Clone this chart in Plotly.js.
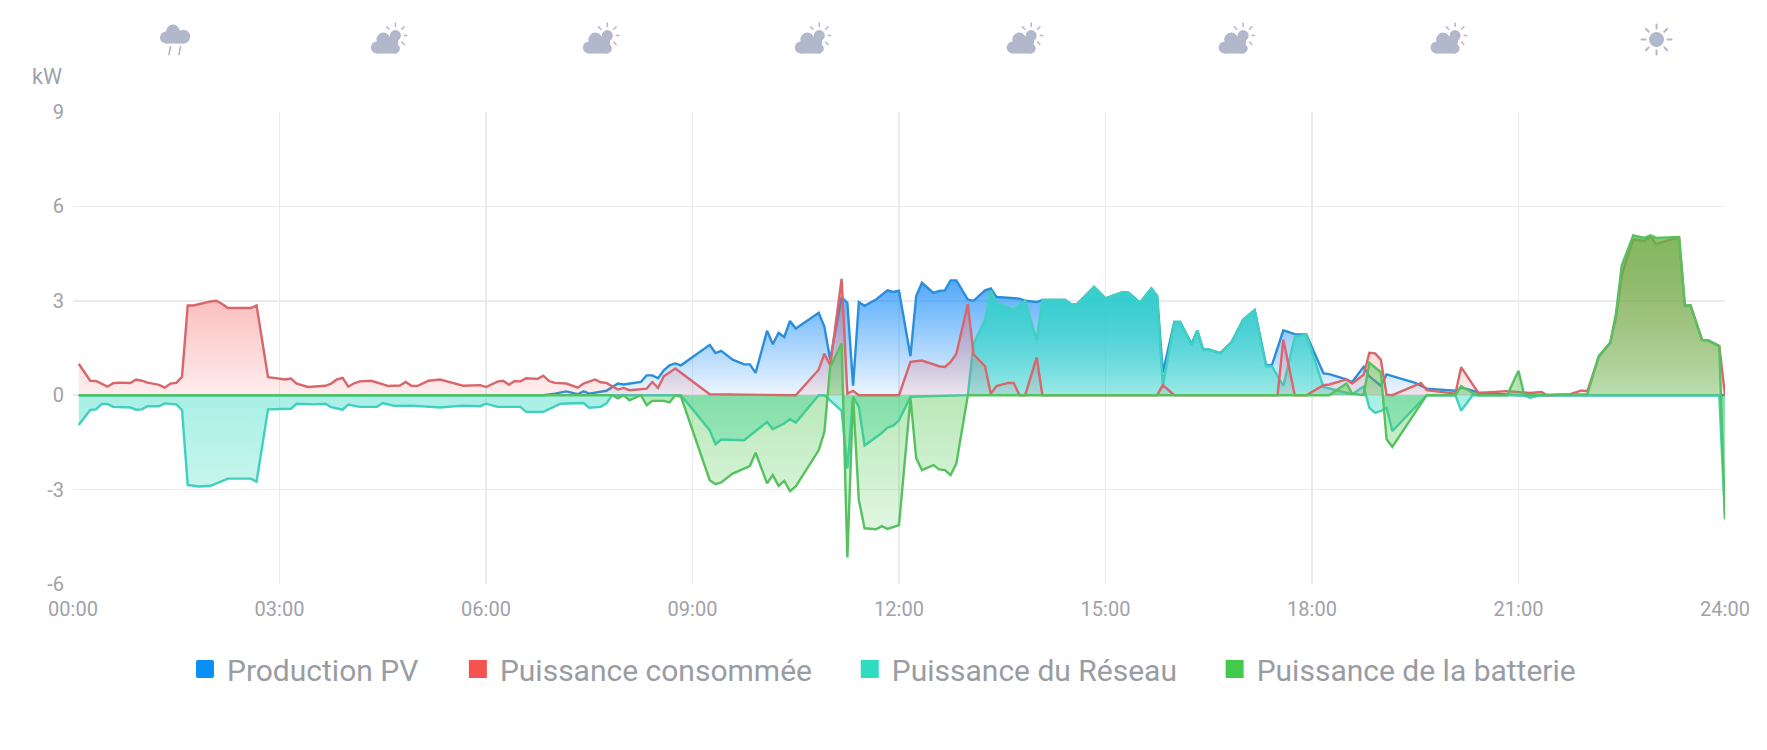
<!DOCTYPE html>
<html><head><meta charset="utf-8">
<script src="https://cdn.plot.ly/plotly-3.0.1.min.js"></script>
<style>html,body{margin:0;padding:0;background:#fff}#c{width:1767px;height:750px}.legend path{stroke-linejoin:round}</style>
</head><body><div id="c"></div>
<script>
const seriesNames=['Production PV','Puissance consommée','Puissance du Réseau','Puissance de la batterie'];
const tickMinutes=[0,180,360,540,720,900,1080,1260,1440];
const tickLabels=['00:00','03:00','06:00','09:00','12:00','15:00','18:00','21:00','24:00'];
const yTicks=[-6,-3,0,3,6,9];
const yLabels=['-6','-3','0','3','6','9'];

const pvT=[5,410,420,430,440,445,450,455,465,475,480,495,500,505,510,515,520,525,530,555,560,565,575,585,590,595,605,610,615,620,625,630,650,655,660,670,675,680,685,690,700,710,715,720,730,735,740,750,755,760,765,770,780,785,795,800,805,825,830,840,845,865,870,875,890,900,915,920,930,940,945,950,960,965,975,980,985,990,1000,1010,1020,1030,1040,1045,1055,1065,1075,1090,1095,1110,1115,1125,1130,1140,1145,1170,1180,1205,1210,1215,1225,1260,1440];
const pvV=[0,0,.05,.12,.03,.12,.05,.08,.14,.37,.34,.42,.63,.63,.54,.79,.95,1.01,.95,1.6,1.34,1.41,1.13,.98,.98,.71,2.05,1.62,1.98,1.85,2.36,2.12,2.62,2.17,1.13,3.12,2.93,.3,2.96,2.84,3.04,3.33,3.28,3.32,1.24,3.15,3.57,3.25,3.31,3.33,3.65,3.65,3.04,3,3.33,3.39,3.12,3.07,3,2.96,3.03,3.03,2.89,2.89,3.44,3.08,3.27,3.26,2.94,3.39,3.15,.72,2.33,2.33,1.63,2.06,1.45,1.45,1.34,1.69,2.4,2.7,.95,.95,2.06,1.94,1.93,.69,.67,.5,.42,.9,.6,.3,.66,.39,.21,.14,.24,.2,.08,0,0];

const loadT=[5,15,20,25,30,35,40,50,55,60,65,75,80,85,90,95,100,105,110,120,125,130,135,155,160,170,175,185,190,195,205,220,225,230,235,240,245,250,260,265,270,275,285,290,295,300,310,320,330,340,355,360,370,375,380,385,390,395,405,410,415,420,430,440,445,455,460,465,475,480,485,500,505,510,515,525,555,630,650,655,660,670,675,680,685,720,730,740,755,760,765,770,780,785,795,800,805,815,820,825,830,840,845,945,950,960,1050,1055,1065,1075,1090,1095,1110,1115,1125,1130,1135,1140,1145,1150,1175,1180,1205,1210,1225,1250,1270,1280,1285,1305,1315,1320,1330,1340,1345,1350,1355,1360,1370,1375,1380,1395,1400,1405,1410,1420,1425,1435,1440];
const loadV=[1,.46,.45,.36,.27,.38,.4,.39,.5,.46,.4,.33,.24,.37,.39,.58,2.85,2.85,2.9,2.98,3,2.9,2.77,2.77,2.85,.57,.55,.5,.53,.37,.26,.3,.37,.5,.55,.27,.38,.44,.46,.4,.35,.29,.31,.42,.3,.29,.46,.5,.4,.3,.32,.26,.43,.46,.33,.45,.44,.54,.52,.62,.45,.39,.37,.24,.37,.5,.41,.39,.18,.23,.16,.21,.42,.23,.6,.85,.03,0,.81,1.32,.95,3.7,.05,.14,0,0,1.06,1.1,.92,.9,1.06,1.32,2.89,1.3,.92,.05,.29,.39,.39,0,0,1.2,0,0,.32,0,0,1.77,0,0,.32,.34,.5,.37,.65,1.35,1.33,1.13,.02,0,.39,.16,.05,.89,.07,.13,.07,.1,0,.03,.15,.13,1.22,1.67,2.5,3.8,4.4,4.95,4.9,5.05,4.8,4.98,5,2.85,2.85,1.75,1.75,1.56,0];

const gridT=[5,15,20,25,30,35,50,55,60,65,75,80,90,95,100,110,120,125,135,155,160,170,190,195,210,220,225,235,240,250,265,270,280,295,320,340,355,360,370,390,395,410,425,445,450,460,465,470,530,555,560,565,585,605,610,620,625,630,650,655,670,675,680,685,690,705,710,715,720,730,780,785,795,800,805,820,830,840,845,865,870,875,890,900,915,920,930,940,945,950,960,965,975,980,985,990,1000,1010,1020,1030,1040,1045,1055,1065,1075,1090,1110,1115,1125,1130,1135,1140,1145,1150,1180,1205,1210,1220,1265,1270,1280,1435,1440];
const gridV=[-.95,-.47,-.45,-.28,-.28,-.37,-.39,-.46,-.45,-.35,-.35,-.26,-.29,-.47,-2.85,-2.9,-2.88,-2.8,-2.65,-2.65,-2.75,-.45,-.43,-.27,-.29,-.27,-.38,-.46,-.3,-.37,-.37,-.25,-.34,-.33,-.39,-.33,-.35,-.27,-.37,-.37,-.53,-.53,-.27,-.25,-.4,-.37,-.26,0,0,-1.11,-1.56,-1.41,-1.43,-.85,-1.08,-.9,-.76,-.87,0,0,-.5,-2.33,-.05,-.37,-1.6,-1.2,-1.03,-.97,-.8,-.05,0,1.64,2.38,3.33,2.93,2.72,3,1.75,3.03,3.03,2.89,2.89,3.44,3.08,3.27,3.26,2.94,3.39,3.15,.3,2.33,2.33,1.6,2.06,1.45,1.45,1.34,1.69,2.4,2.7,.92,.92,.3,1.85,1.93,.26,.07,.03,.28,-.4,-.56,-.5,-.4,-1.14,0,0,-.49,0,0,-.08,0,0,-3.9];

const battT=[5,470,475,480,485,495,500,505,515,520,525,530,555,560,565,575,590,595,605,610,615,620,625,630,650,655,660,670,675,680,685,690,700,705,710,720,730,735,740,750,755,760,765,770,780,1095,1110,1115,1125,1130,1140,1145,1150,1180,1205,1210,1220,1225,1250,1260,1265,1320,1330,1340,1345,1350,1360,1370,1375,1380,1400,1405,1410,1420,1425,1435,1440];
const battV=[0,0,-.1,0,-.16,0,-.32,-.18,-.18,-.23,0,-.05,-2.7,-2.83,-2.77,-2.49,-2.25,-1.83,-2.8,-2.54,-2.88,-2.72,-3.05,-2.9,-1.75,-1.16,.9,1.64,-5.16,-.05,-3.33,-4.23,-4.26,-4.16,-4.25,-4.13,-.1,-2,-2.38,-2.22,-2.36,-2.38,-2.54,-2.17,0,0,.37,.05,0,1.03,.73,-1.4,-1.64,0,0,.29,.07,0,0,.78,0,.03,1.25,1.67,2.6,4.12,5.08,5,5.08,5,5.03,2.85,2.85,1.75,1.75,1.56,-3.95];

const iconKinds=['rain','cloudsun','cloudsun','cloudsun','cloudsun','cloudsun','cloudsun','sun'];

const W=1767,H=750,L=73,R=1725.5,T=111.5,B=584;
const lineCols=['#2b8edb','#d9666b','#3fd0c0','#55c25f'];
const swatchCols=['#0a8ff5','#f5534f','#2fdcc0','#45c94d'];
const grads=[
 {s:3.65,e:0,c:[[0,'rgba(24,140,250,.75)'],[1,'rgba(24,140,250,.08)']]},
 {s:3.7,e:0,c:[[0,'rgba(245,80,80,.42)'],[1,'rgba(245,80,80,.1)']]},
 {s:3.44,e:-2.9,c:[[0,'rgba(47,210,200,.9)'],[.54,'rgba(47,218,195,.42)'],[1,'rgba(47,220,190,.27)']]},
 {s:5.08,e:-5.16,c:[[0,'rgba(90,185,65,.75)'],[.5,'rgba(75,195,70,.38)'],[1,'rgba(70,205,80,.12)']]}
];
const xs=[pvT,loadT,gridT,battT],ys=[pvV,loadV,gridV,battV];
const drawOrder=[0,2,1,3];
const traces=[];
drawOrder.forEach(i=>{traces.push({type:'scatter',mode:'lines',name:seriesNames[i],x:xs[i],y:ys[i],showlegend:false,hoverinfo:'skip',
 line:{color:lineCols[i],width:2.4,shape:'linear'},fill:'tozeroy',
 fillgradient:{type:'vertical',start:grads[i].s,stop:grads[i].e,colorscale:grads[i].c}});});
const legendIds=['legend','legend2','legend3','legend4'];
const legendLeft=[183,456,848,1213];
seriesNames.forEach((n,i)=>{traces.push({type:'scatter',mode:'markers',name:n,x:[null],y:[null],showlegend:true,legend:legendIds[i],
 marker:{symbol:'square',size:14,color:swatchCols[i],line:{color:swatchCols[i],width:4}}});});

const pw=R-L,ph=B-T;
const px=v=>(v-L)/pw, py=v=>(B-v)/ph;
const legendCfg={};
legendIds.forEach((id,i)=>{legendCfg[id]={orientation:'h',x:px(legendLeft[i]),y:py(669),xanchor:'left',yanchor:'middle',bgcolor:'rgba(0,0,0,0)',borderwidth:0,itemsizing:'trace',itemwidth:34,font:{family:'Roboto',size:30,color:'#9a9ca3'}};});

const c='#b2b8cb';
function rays(cx,cy,r1,r2,angs,w){return angs.map(a=>{const t=a*Math.PI/180;return `<line x1="${cx+r1*Math.cos(t)}" y1="${cy+r1*Math.sin(t)}" x2="${cx+r2*Math.cos(t)}" y2="${cy+r2*Math.sin(t)}" stroke="${c}" stroke-width="${w}" stroke-linecap="round"/>`}).join('');}
const icons={
 rain:`<g fill="${c}"><circle cx="18" cy="12" r="7"/><circle cx="28.5" cy="17" r="6.8"/><circle cx="11" cy="18" r="6"/><rect x="10" y="14" width="20" height="10"/></g><line x1="15.5" y1="27" x2="14" y2="35" stroke="${c}" stroke-width="1.6" stroke-linecap="round"/><line x1="25.5" y1="27" x2="24" y2="35" stroke="${c}" stroke-width="1.6" stroke-linecap="round"/>`,
 cloudsun:`<g fill="${c}"><circle cx="28" cy="16" r="5.5"/><circle cx="16" cy="20" r="7"/><circle cx="25" cy="22" r="6"/><circle cx="9.5" cy="28" r="6"/><rect x="9" y="24" width="20" height="10"/><circle cx="27.5" cy="29" r="5"/></g>`+rays(28,16,9,12.5,[-135,-90,-45,0,45],1.5),
 sun:`<circle cx="20" cy="20" r="7.5" fill="${c}"/>`+rays(20,20,11,15,[0,45,90,135,180,225,270,315],2)
};
const icoSize=40,icoY=39;
const centers=[175,387.5,599.5,811.5,1023.5,1235.5,1447.5,1656];
const images=iconKinds.map((k,i)=>({source:'data:image/svg+xml;utf8,'+encodeURIComponent(`<svg xmlns="http://www.w3.org/2000/svg" width="80" height="80" viewBox="0 0 40 40">${icons[k]}</svg>`),
 xref:'paper',yref:'paper',x:px(k==='sun'?1657:centers[i]),y:py(icoY),sizex:icoSize/pw,sizey:icoSize/ph,xanchor:'center',yanchor:'middle',sizing:'stretch',layer:'above'}));

const tickFont={family:'Roboto',size:20,color:'#a0a2a8'};
const layout=Object.assign({
 width:W,height:H,autosize:false,margin:{l:L,r:W-R,t:T,b:H-B,pad:0},
 paper_bgcolor:'#fff',plot_bgcolor:'#fff',showlegend:true,
 xaxis:{type:'linear',range:[0,1440],tickmode:'array',tickvals:tickMinutes,ticktext:tickLabels,tickfont:tickFont,showgrid:true,gridcolor:'#ebebee',gridwidth:1.5,zeroline:false,showline:false,ticks:'',ticklabelstandoff:11,fixedrange:true},
 yaxis:{range:[-6,9],tickmode:'array',tickvals:yTicks,ticktext:yLabels,tickfont:tickFont,showgrid:true,gridcolor:'#ebebee',gridwidth:1.5,zeroline:false,showline:false,ticks:'',ticklabelstandoff:8,fixedrange:true},
 annotations:[{text:'kW',xref:'paper',yref:'paper',x:px(64),y:py(76),xanchor:'right',yanchor:'middle',showarrow:false,font:{family:'Roboto',size:21.5,color:'#a0a2a8'}}],
 images:images
},legendCfg);
Plotly.newPlot('c',traces,layout,{displayModeBar:false,staticPlot:true});
</script></body></html>
